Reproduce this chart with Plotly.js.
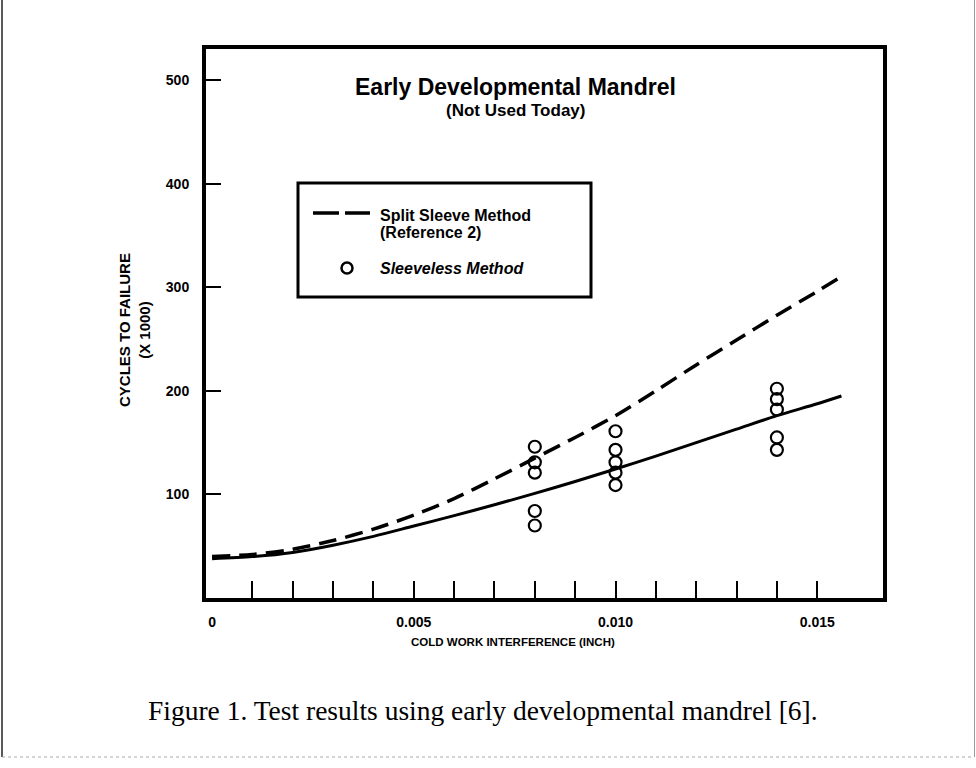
<!DOCTYPE html>
<html>
<head>
<meta charset="utf-8">
<script src="https://cdn.plot.ly/plotly-3.0.1.min.js"></script>
<style>
html,body{margin:0;padding:0;background:#ffffff;}
#chart{width:976px;height:768px;}
</style>
</head>
<body>
<div id="chart"></div>
<script>
// ---- data ----
const splitSleeveX = [0, 0.001, 0.002, 0.003, 0.004, 0.005, 0.006, 0.007, 0.008, 0.009, 0.010, 0.011, 0.012, 0.013, 0.014, 0.015, 0.0155];
const splitSleeveY = [40, 42, 47, 55.5, 66.5, 80, 96, 115, 135, 155, 176, 200, 225, 249, 273, 296, 308];

const sleevelessFitX = [0, 0.001, 0.002, 0.003, 0.004, 0.005, 0.006, 0.007, 0.008, 0.009, 0.010, 0.011, 0.012, 0.013, 0.014, 0.015, 0.0156];
const sleevelessFitY = [38, 40, 44, 51, 59.5, 69.5, 79.5, 90, 101, 112.5, 124.5, 137, 150, 163, 176, 187.5, 195];

const sleevelessTestX = [0.008, 0.008, 0.008, 0.008, 0.008,
                         0.010, 0.010, 0.010, 0.010, 0.010,
                         0.014, 0.014, 0.014, 0.014, 0.014];
const sleevelessTestY = [146, 131, 121, 84, 70,
                         161, 143, 131, 121, 109,
                         202, 192, 182, 155, 143];

const yTickVals = [100, 200, 300, 400, 500];
const yTickText = ['100', '200', '300', '400', '500'];
const xLabelVals = [0, 0.005, 0.010, 0.015];
const xLabelText = ['0', '0.005', '0.010', '0.015'];
const xMinorTickVals = [0.001, 0.002, 0.003, 0.004, 0.005, 0.006, 0.007, 0.008, 0.009, 0.010, 0.011, 0.012, 0.013, 0.014, 0.015];

const titleText = 'Early Developmental Mandrel';
const subtitleText = '(Not Used Today)';
const legendLine1 = 'Split Sleeve Method';
const legendLine2 = '(Reference 2)';
const legendLine3 = 'Sleeveless Method';
const yTitleText = 'CYCLES TO FAILURE<br>(X 1000)';
const xTitleText = 'COLD WORK INTERFERENCE (INCH)';
const captionText = 'Figure 1. Test results using early developmental mandrel [6].';

// ---- layout helpers (pixel -> paper) ----
const L = 206, R = 883, T = 49, B = 598;
function px(x) { return (x - L) / (R - L); }
function py(y) { return (B - y) / (B - T); }

const SANS = 'Liberation Sans, Arial, Helvetica, sans-serif';
const SERIF = 'Liberation Serif, Times New Roman, serif';
const XRANGE = [-0.00015, 0.01663];

const traces = [
  {
    x: splitSleeveX, y: splitSleeveY, type: 'scatter', mode: 'lines',
    line: {color: '#000', width: 3.5, dash: '18px,9px', shape: 'spline', smoothing: 0.8},
    hoverinfo: 'skip', showlegend: false
  },
  {
    x: sleevelessFitX, y: sleevelessFitY, type: 'scatter', mode: 'lines',
    line: {color: '#000', width: 3, shape: 'spline', smoothing: 0.8},
    hoverinfo: 'skip', showlegend: false
  },
  {
    x: sleevelessTestX, y: sleevelessTestY, type: 'scatter', mode: 'markers',
    marker: {symbol: 'circle-open', size: 12, color: '#000', line: {color: '#000', width: 2.2}},
    hoverinfo: 'skip', showlegend: false
  },
  {
    x: [XRANGE[0]], y: [0], xaxis: 'x2', type: 'scatter', mode: 'markers',
    marker: {size: 1, opacity: 0}, hoverinfo: 'skip', showlegend: false
  }
];

function ann(text, x, y, size, opts) {
  return Object.assign({
    text: text, xref: 'paper', yref: 'paper', x: px(x), y: py(y),
    xanchor: 'center', yanchor: 'middle', showarrow: false,
    font: {family: SANS, size: size, color: '#000', weight: 700}
  }, opts || {});
}

const layout = {
  width: 976, height: 768,
  margin: {l: L, r: 976 - R, t: T, b: 768 - B, pad: 0},
  paper_bgcolor: '#fff', plot_bgcolor: '#fff',
  showlegend: false,
  xaxis: {
    range: XRANGE, showline: true, linewidth: 4, linecolor: '#000', mirror: true,
    ticks: '', tickmode: 'array', tickvals: xLabelVals, ticktext: xLabelText,
    tickfont: {family: SANS, size: 14, color: '#000', weight: 700},
    ticklabelstandoff: 8, showgrid: false, zeroline: false
  },
  xaxis2: {
    range: XRANGE, overlaying: 'x', anchor: 'y', side: 'bottom',
    showline: false, showgrid: false, zeroline: false, showticklabels: false,
    ticks: 'inside', ticklen: 17, tickwidth: 2, tickcolor: '#000',
    tickmode: 'array', tickvals: xMinorTickVals
  },
  yaxis: {
    range: [0, 530], showline: true, linewidth: 4, linecolor: '#000', mirror: true,
    ticks: 'inside', ticklen: 15, tickwidth: 2, tickcolor: '#000',
    tickmode: 'array', tickvals: yTickVals, ticktext: yTickText,
    tickfont: {family: SANS, size: 14, color: '#000', weight: 700},
    ticklabelstandoff: 10, showgrid: false, zeroline: false
  },
  shapes: [
    // legend box
    {type: 'rect', xref: 'paper', yref: 'paper', x0: px(298), x1: px(591), y0: py(183), y1: py(297),
     line: {color: '#000', width: 3}, fillcolor: 'rgba(0,0,0,0)'},
    // legend dashed sample
    {type: 'line', xref: 'paper', yref: 'paper', x0: px(313), x1: px(370), y0: py(213), y1: py(213),
     line: {color: '#000', width: 3.5, dash: '26px,6px'}},
    // legend circle sample
    {type: 'circle', xref: 'paper', yref: 'paper', x0: px(341.5), x1: px(352.5), y0: py(273.5), y1: py(262.5),
     line: {color: '#000', width: 2.5}},
    // outer page frame
    {type: 'line', xref: 'paper', yref: 'paper', x0: px(2), x1: px(2), y0: py(0), y1: py(757),
     line: {color: '#222', width: 1.5}},
    {type: 'line', xref: 'paper', yref: 'paper', x0: px(974.5), x1: px(974.5), y0: py(0), y1: py(757),
     line: {color: '#999', width: 1}},
    {type: 'line', xref: 'paper', yref: 'paper', x0: px(2), x1: px(974), y0: py(757), y1: py(757),
     line: {color: '#aaa', width: 1, dash: 'dot'}}
  ],
  annotations: [
    ann(titleText, 515, 87, 23),
    ann(subtitleText, 515, 111, 17),
    ann(legendLine1, 378, 215, 16, {xanchor: 'left'}),
    ann(legendLine2, 378, 232, 16, {xanchor: 'left'}),
    ann(legendLine3, 378, 268, 16, {xanchor: 'left',
      font: {family: SANS, size: 16, color: '#000', weight: 700, style: 'italic'}}),
    ann(yTitleText, 134, 330, 15, {textangle: -90}),
    ann(xTitleText, 513, 642, 11.5),
    ann(captionText, 483, 710, 27.5, {font: {family: SERIF, size: 27.5, color: '#000'}})
  ]
};

Plotly.newPlot('chart', traces, layout, {staticPlot: true, displayModeBar: false});
</script>
</body>
</html>
